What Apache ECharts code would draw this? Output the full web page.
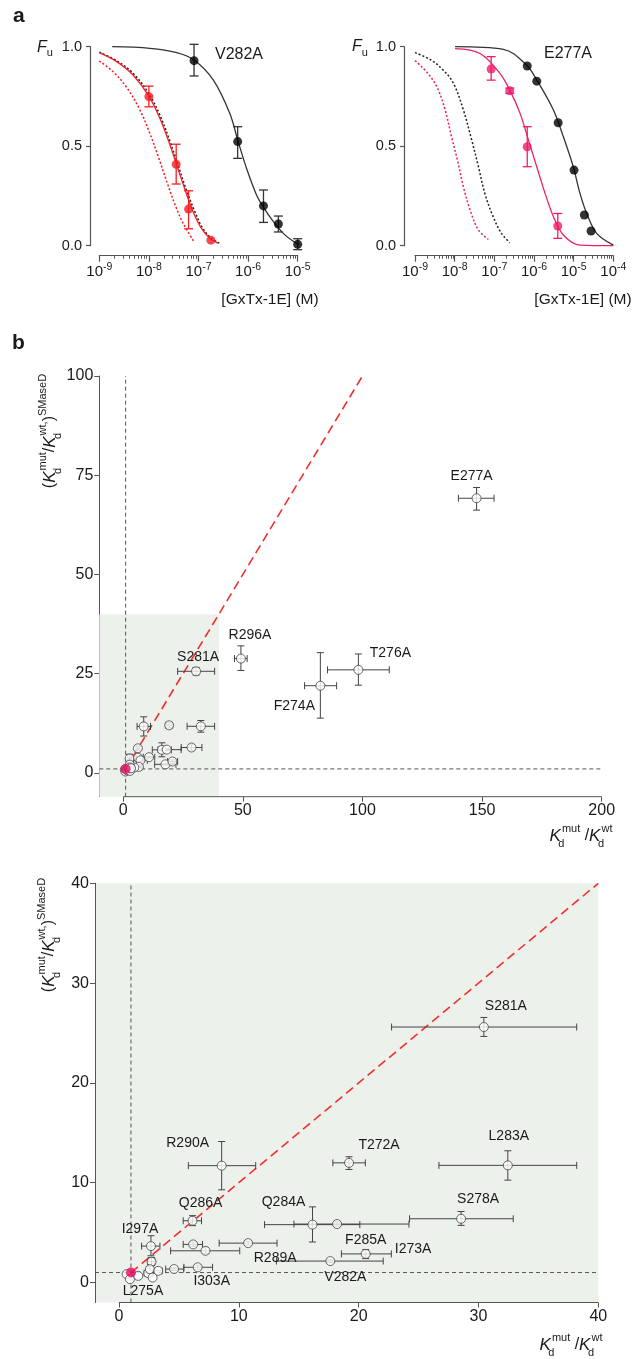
<!DOCTYPE html>
<html>
<head>
<meta charset="utf-8">
<script src="https://cdn.jsdelivr.net/npm/echarts@6.0.0/dist/echarts.min.js"></script>
<style>
html,body{margin:0;padding:0;background:#ffffff;}
#chart{width:634px;height:1359px;}
</style>
</head>
<body>
<div id="chart"></div>
<script>
// ======================= DATA =======================
// Panel a: concentrations stored as log10([GxTx-1E] / M)
const aLeftTickExp  = [-9, -8, -7, -6, -5];
const aRightTickExp = [-9, -8, -7, -6, -5, -4];
const aYTicks = [0, 0.5, 1];

// Panel a left (V282A) – black: mutant, red: mutant + SMaseD
const aLBlackLogC = [-7.09, -6.21, -5.69, -5.39, -5.00];
const aLBlackFu   = [0.930, 0.523, 0.200, 0.109, 0.007];
const aLBlackLo   = [0.853, 0.439, 0.117, 0.069, -0.020];
const aLBlackHi   = [1.012, 0.598, 0.280, 0.149, 0.035];
const aLRedLogC = [-8.00, -7.45, -7.20, -6.75];
const aLRedFu   = [0.749, 0.409, 0.184, 0.028];
const aLRedLo   = [0.698, 0.310, 0.085, 0.028];
const aLRedHi   = [0.802, 0.510, 0.276, 0.028];
// fitted curves
const aLBlackCurveLogC = [-8.74, -7.98, -7.44, -7.09, -6.70, -6.37, -6.20, -6.02, -5.83, -5.69, -5.49, -5.29, -5.06, -4.95];
const aLBlackCurveFu   = [1.000, 0.992, 0.970, 0.933, 0.832, 0.665, 0.523, 0.380, 0.255, 0.193, 0.121, 0.062, 0.017, 0.004];
const aLRedCurveLogC = [-9.00, -8.65, -8.32, -8.00, -7.78, -7.61, -7.45, -7.27, -7.11, -6.94, -6.77, -6.60];
const aLRedCurveFu   = [0.970, 0.925, 0.858, 0.752, 0.640, 0.531, 0.414, 0.280, 0.171, 0.087, 0.037, 0.012];
const aLBlackDotLogC = [-9.00, -8.64, -8.30, -7.98, -7.76, -7.59, -7.43, -7.25, -7.08, -6.92, -6.75, -6.58];
const aLBlackDotFu   = [0.972, 0.928, 0.862, 0.756, 0.645, 0.535, 0.418, 0.284, 0.175, 0.090, 0.039, 0.013];
const aLRedDotLogC = [-9.00, -8.72, -8.45, -8.18, -7.98, -7.81, -7.64, -7.47, -7.31, -7.09];
const aLRedDotFu   = [0.928, 0.874, 0.796, 0.682, 0.564, 0.447, 0.322, 0.204, 0.112, 0.020];

// Panel a right (E277A) – black: mutant, pink: mutant + SMaseD
const aRBlackLogC = [-6.17, -5.93, -5.39, -4.99, -4.73, -4.56];
const aRBlackFu   = [0.903, 0.827, 0.618, 0.380, 0.154, 0.074];
const aRPinkLogC = [-7.08, -6.61, -6.17, -5.40];
const aRPinkFu   = [0.888, 0.779, 0.497, 0.099];
const aRPinkLo   = [0.832, 0.765, 0.397, 0.037];
const aRPinkHi   = [0.950, 0.792, 0.598, 0.162];
const aRBlackCurveLogC = [-7.99, -6.77, -6.19, -5.93, -5.51, -5.26, -5.01, -4.84, -4.67, -4.42, -4.00];
const aRBlackCurveFu   = [1.000, 0.987, 0.908, 0.833, 0.682, 0.548, 0.397, 0.263, 0.162, 0.062, 0.003];
const aRPinkCurveLogC = [-7.99, -7.36, -6.86, -6.61, -6.35, -6.14, -5.93, -5.72, -5.51, -5.26, -4.84, -4.00];
const aRPinkCurveFu   = [0.990, 0.966, 0.866, 0.782, 0.665, 0.531, 0.397, 0.263, 0.146, 0.054, 0.003, 0.000];
const aRBlackDotLogC = [-9.00, -8.62, -8.29, -8.03, -7.78, -7.57, -7.40, -7.24, -7.03, -6.82, -6.61];
const aRBlackDotFu   = [0.970, 0.936, 0.883, 0.816, 0.682, 0.531, 0.397, 0.263, 0.146, 0.062, 0.015];
const aRPinkDotLogC = [-9.00, -8.71, -8.45, -8.24, -8.08, -7.93, -7.78, -7.61, -7.40, -7.15];
const aRPinkDotFu   = [0.930, 0.874, 0.799, 0.682, 0.548, 0.430, 0.296, 0.179, 0.079, 0.032];

// Panel b: Kd(mut)/Kd(wt) (x) vs (Kd(mut)/Kd(wt))^SMaseD (y)
const bNames = ['S281A','L283A','T272A','R290A','S278A','Q284A','I273A','Q286A','I297A','','','R289A','V282A','F285A','I303A','','','','L275A','','','','','','F274A','T276A','R296A','E277A'];
const bX   = [30.45, 32.45, 19.20, 8.57, 28.55, 16.15, 18.20, 6.14, 2.67, 6.19, 7.22, 10.78, 17.64, 20.59, 6.57, 4.60, 2.72, 0.64, 0.92, 1.61, 2.44, 2.58, 2.81, 3.28, 82.4, 98.3, 49.2, 147.7];
const bXLo = [22.75, 26.70, 17.85, 5.79, 24.25, 12.15, 14.60, 5.36, 1.89, 5.36, 4.31, 8.36, 13.14, 18.56, 5.42, 3.90, 2.40, 0.64, 0.92, 1.61, 2.10, 2.58, 2.81, 2.90, 75.8, 85.4, 46.5, 140.1];
const bXHi = [38.20, 38.20, 20.56, 11.41, 32.90, 20.10, 24.20, 6.89, 3.42, 6.97, 10.08, 13.19, 22.05, 22.73, 7.81, 5.40, 3.00, 0.64, 0.92, 1.61, 2.80, 2.58, 2.81, 3.60, 89.2, 111.2, 51.8, 155.0];
const bY   = [25.60, 11.74, 11.99, 11.71, 6.39, 5.80, 5.86, 6.19, 3.65, 3.82, 3.18, 3.95, 2.15, 2.87, 1.53, 1.35, 2.08, 0.84, 0.34, 0.67, 0.94, 1.34, 0.50, 1.17, 21.96, 25.96, 28.8, 69.2];
const bYLo = [24.66, 10.26, 11.33, 9.29, 5.73, 4.06, 5.65, 5.70, 2.68, 3.60, 2.90, 3.75, 2.00, 2.40, 1.30, 1.20, 1.70, 0.84, 0.34, 0.67, 0.94, 1.10, 0.50, 1.17, 13.8, 22.1, 25.8, 66.2];
const bYHi = [26.56, 13.20, 12.60, 14.13, 7.12, 7.58, 6.07, 6.70, 4.69, 4.05, 3.50, 4.15, 2.30, 3.30, 1.75, 1.50, 2.50, 0.84, 0.34, 0.67, 0.94, 1.60, 0.50, 1.17, 30.3, 29.96, 32.0, 71.9];
const wtPoint = [1, 1];           // wild type reference
const refRatio = 1;               // Kd ratio of 1 (dashed guides)
const bTopXRange = [-10, 200], bTopYRange = [-6, 100];
const bTopXTicks = [0, 50, 100, 150, 200], bTopYTicks = [0, 25, 50, 75, 100];
const bBotXRange = [-2, 40], bBotYRange = [-2, 40];
const bBotXTicks = [0, 10, 20, 30, 40], bBotYTicks = [0, 10, 20, 30, 40];
const bTopDiagEnd = 100, bBotDiagEnd = 40;
const bInset = [40, 40];

// ======================= STYLE =======================
const FONT = '"Liberation Sans", Arial, Helvetica, sans-serif';
const AX = '#555555';
const TXT = '#1a1a1a';
const RED = '#f41c22';
const PINK = '#ef1d6c';
const WT = '#e8075f';
const DASHRED = '#f2302a';
const SHADE = '#edf1ec';

// label offsets (px, centre of label relative to centre of point)
const topLabelOffsets = { E277A: [-5, -22], R296A: [9, -23], S281A: [2, -14], T276A: [32, -17], F274A: [-26, 20] };
const botLabelOffsets = { S281A: [22, -21], L283A: [1, -29], T272A: [30, -18], R290A: [-34, -23], S278A: [17, -20],
  Q284A: [-29, -23], I273A: [76, 25], Q286A: [8, -18], I297A: [-11, -17], R289A: [27, 15], V282A: [15, 16],
  F285A: [0, -14], I303A: [14, 14], L275A: [13, 12] };

const pow10 = e => Math.pow(10, e);
const minorTicks = exps => {
  const out = [];
  for (let i = 0; i < exps.length - 1; i++) for (let k = 2; k <= 9; k++) out.push(k * pow10(exps[i]));
  return out;
};

function makeErr(color, cap, lw) {
  return function (params, api) {
    const x = api.value(0), y = api.value(1);
    const xl = api.value(2), xh = api.value(3), yl = api.value(4), yh = api.value(5);
    const st = { stroke: color, lineWidth: lw, fill: null };
    const kids = [];
    const seg = (p, q) => kids.push({ type: 'line', shape: { x1: p[0], y1: p[1], x2: q[0], y2: q[1] }, style: st });
    if (xh > xl) {
      const a = api.coord([xl, y]), b = api.coord([xh, y]);
      seg(a, b); seg([a[0], a[1] - cap], [a[0], a[1] + cap]); seg([b[0], b[1] - cap], [b[0], b[1] + cap]);
    }
    if (yh > yl) {
      const a = api.coord([x, yl]), b = api.coord([x, yh]);
      seg(a, b); seg([a[0] - cap, a[1]], [a[0] + cap, a[1]]); seg([b[0] - cap, b[1]], [b[0] + cap, b[1]]);
    }
    return { type: 'group', children: kids };
  };
}

const supRich = {
  b: { fontSize: 15, fontFamily: FONT, color: TXT, lineHeight: 20 },
  s: { fontSize: 10.5, fontFamily: FONT, color: TXT, lineHeight: 11, verticalAlign: 'top' }
};

function logMajor(grid, exps) {
  const vals = exps.map(pow10);
  return {
    type: 'log', logBase: 10, gridIndex: grid, position: 'bottom', offset: 10,
    min: vals[0], max: vals[vals.length - 1],
    axisLine: { show: true, onZero: false, lineStyle: { color: AX, width: 1.2 } },
    axisTick: { show: true, length: 6, customValues: vals, lineStyle: { color: AX, width: 1.2 } },
    axisLabel: { show: true, margin: 6, customValues: vals,
      formatter: v => '{b|10}{s|' + Math.round(Math.log10(v)) + '}', rich: supRich },
    splitLine: { show: false }, minorTick: { show: false }
  };
}
function logMinor(grid, exps) {
  const vals = exps.map(pow10);
  return {
    type: 'log', logBase: 10, gridIndex: grid, position: 'bottom', offset: 10,
    min: vals[0], max: vals[vals.length - 1],
    axisLine: { show: false, onZero: false },
    axisTick: { show: true, length: 3, customValues: minorTicks(exps), lineStyle: { color: AX, width: 1 } },
    axisLabel: { show: false }, splitLine: { show: false }
  };
}
function fuAxis(grid, offset) {
  return {
    type: 'value', gridIndex: grid, min: aYTicks[0], max: aYTicks[aYTicks.length - 1], offset: offset,
    axisLine: { show: true, onZero: false, lineStyle: { color: AX, width: 1.2 } },
    axisTick: { show: true, length: 4, customValues: aYTicks, lineStyle: { color: AX, width: 1.2 } },
    axisLabel: { customValues: aYTicks, formatter: v => v.toFixed(1), fontSize: 14.5, color: TXT, margin: 8, fontFamily: FONT },
    splitLine: { show: false }
  };
}
function bXAxis(grid, range, ticks) {
  return {
    type: 'value', gridIndex: grid, min: range[0], max: range[1], position: 'bottom',
    axisLine: { show: false, onZero: false },
    axisTick: { show: true, length: 5, customValues: ticks, lineStyle: { color: AX } },
    axisLabel: { customValues: ticks, fontSize: 16, color: TXT, margin: 6, fontFamily: FONT },
    splitLine: { show: false }
  };
}
function bYAxis(grid, range, ticks) {
  return {
    type: 'value', gridIndex: grid, min: range[0], max: range[1],
    axisLine: { show: true, onZero: false, lineStyle: { color: AX, width: 1 } },
    axisTick: { show: true, length: 5, customValues: ticks, lineStyle: { color: AX } },
    axisLabel: { customValues: ticks, fontSize: 16, color: TXT, margin: 6, fontFamily: FONT },
    splitLine: { show: false }
  };
}

function curve(xi, yi, logc, fu, color, dotted) {
  return { type: 'line', xAxisIndex: xi, yAxisIndex: yi, silent: true, clip: false, z: 2,
    data: logc.map((l, i) => [pow10(l), fu[i]]), smooth: 0.35, symbol: 'none',
    lineStyle: { color: color, width: dotted ? 1.5 : 1.3, type: dotted ? [2, 2] : 'solid' } };
}
function dots(xi, yi, logc, fu, color) {
  return { type: 'scatter', xAxisIndex: xi, yAxisIndex: yi, silent: true, z: 5, clip: false,
    symbolSize: 9, itemStyle: { color: color, borderWidth: 0 },
    data: logc.map((l, i) => [pow10(l), fu[i]]) };
}
function aErr(xi, yi, logc, fu, lo, hi, color) {
  return { type: 'custom', xAxisIndex: xi, yAxisIndex: yi, silent: true, z: 4, clip: false,
    renderItem: makeErr(color, 4.5, 1.3), encode: { x: 0, y: 1 },
    data: logc.map((l, i) => [pow10(l), fu[i], pow10(l), pow10(l), lo[i], hi[i]]) };
}

function guideLine(xi, yi, pts, color, width, dash, extra) {
  return Object.assign({ type: 'line', xAxisIndex: xi, yAxisIndex: yi, silent: true, clip: false, z: 1,
    data: pts, symbol: 'none', lineStyle: { color: color, width: width, type: dash } }, extra || {});
}
function bPanelSeries(xi, yi, xr, yr, xticks, diagEnd, offsets, shaded) {
  const s = [];
  s.push(guideLine(xi, yi, [[refRatio, yr[0]], [refRatio, yr[1]]], '#555', 1, [4, 3]));
  s.push(guideLine(xi, yi, [[xr[0], refRatio], [xr[1], refRatio]], '#555', 1, [4, 3],
    shaded ? { markArea: { silent: true, itemStyle: { color: SHADE }, data: [[{ coord: [xr[0], yr[0]] }, { coord: bInset }]] } } : null));
  s.push(guideLine(xi, yi, [[xticks[0], yr[0]], [xticks[xticks.length - 1], yr[0]]], AX, 1, 'solid', { z: 6 }));
  s.push(guideLine(xi, yi, [[wtPoint[0], wtPoint[1]], [diagEnd, diagEnd]], DASHRED, 1.6, [9, 5], { z: 2 }));
  s.push({ type: 'custom', xAxisIndex: xi, yAxisIndex: yi, silent: true, z: 3, clip: true,
    renderItem: makeErr('#444', 3.5, 1), encode: { x: 0, y: 1 },
    data: bX.map((x, i) => [x, bY[i], bXLo[i], bXHi[i], bYLo[i], bYHi[i]]) });
  s.push({ type: 'scatter', xAxisIndex: xi, yAxisIndex: yi, silent: true, z: 4, clip: true,
    symbolSize: 9, itemStyle: { color: '#ffffff', borderColor: '#444', borderWidth: 1 },
    label: { show: false, position: 'inside', formatter: '{b}', fontSize: 14, color: TXT, fontFamily: FONT, textBorderWidth: 0, opacity: 1 },
    data: bX.map((x, i) => {
      const off = offsets[bNames[i]];
      return { value: [x, bY[i]], name: bNames[i], label: off ? { show: true, offset: off } : { show: false } };
    }) });
  s.push({ type: 'scatter', xAxisIndex: xi, yAxisIndex: yi, silent: true, z: 5,
    symbolSize: 10, itemStyle: { color: WT, borderWidth: 0 }, data: [wtPoint] });
  return s;
}

const kdRich = {
  n: { fontSize: 16, fontFamily: FONT, color: TXT, lineHeight: 26 },
  i: { fontSize: 17, fontStyle: 'italic', fontFamily: FONT, color: TXT, lineHeight: 26 },
  sb: { fontSize: 11, fontFamily: FONT, color: TXT, lineHeight: 12, verticalAlign: 'bottom', width: 1 },
  sp: { fontSize: 11, fontFamily: FONT, color: TXT, lineHeight: 12, verticalAlign: 'top' }
};
const yNameText = '{n|(}{i|K}{sb|d}{sp|mut}{n|/}{i|K}{sb|d}{sp|wt,}{n|)}{sp|SMaseD}';
const xNameText = '{i|K}{sb|d}{sp|mut}{n| /}{i|K}{sb|d}{sp|wt}';
const fuRich = {
  i: { fontSize: 16, fontStyle: 'italic', fontFamily: FONT, color: TXT, lineHeight: 22 },
  s: { fontSize: 11, fontFamily: FONT, color: TXT, lineHeight: 12, verticalAlign: 'bottom' }
};
function txt(x, y, text, opts) {
  return { type: 'text', x: x, y: y, rotation: (opts && opts.rot) || 0, silent: true,
    style: Object.assign({ text: text, fill: TXT, font: '15px ' + FONT, align: 'center', verticalAlign: 'middle' }, (opts && opts.style) || {}) };
}

const option = {
  animation: false,
  backgroundColor: '#ffffff',
  textStyle: { fontFamily: FONT },
  grid: [
    { left: 99.3, top: 46.7, width: 198.4, height: 199 },
    { left: 415, top: 46.7, width: 198.3, height: 199 },
    { left: 99.3, top: 376, width: 502.4, height: 420.7 },
    { left: 95, top: 883.3, width: 503.3, height: 419.2, show: true, backgroundColor: SHADE, borderWidth: 0 }
  ],
  xAxis: [
    logMajor(0, aLeftTickExp), logMinor(0, aLeftTickExp),
    logMajor(1, aRightTickExp), logMinor(1, aRightTickExp),
    bXAxis(2, bTopXRange, bTopXTicks), bXAxis(3, bBotXRange, bBotXTicks)
  ],
  yAxis: [
    fuAxis(0, 9.3), fuAxis(1, 11),
    bYAxis(2, bTopYRange, bTopYTicks), bYAxis(3, bBotYRange, bBotYTicks)
  ],
  series: [
    curve(0, 0, aLRedDotLogC, aLRedDotFu, RED, true),
    curve(0, 0, aLBlackDotLogC, aLBlackDotFu, '#222', true),
    curve(0, 0, aLRedCurveLogC, aLRedCurveFu, RED, false),
    curve(0, 0, aLBlackCurveLogC, aLBlackCurveFu, '#333', false),
    aErr(0, 0, aLBlackLogC, aLBlackFu, aLBlackLo, aLBlackHi, '#333'),
    aErr(0, 0, aLRedLogC, aLRedFu, aLRedLo, aLRedHi, RED),
    dots(0, 0, aLBlackLogC, aLBlackFu, '#000'),
    dots(0, 0, aLRedLogC, aLRedFu, RED),

    curve(2, 1, aRPinkDotLogC, aRPinkDotFu, PINK, true),
    curve(2, 1, aRBlackDotLogC, aRBlackDotFu, '#222', true),
    curve(2, 1, aRPinkCurveLogC, aRPinkCurveFu, PINK, false),
    curve(2, 1, aRBlackCurveLogC, aRBlackCurveFu, '#333', false),
    aErr(2, 1, aRPinkLogC, aRPinkFu, aRPinkLo, aRPinkHi, PINK),
    dots(2, 1, aRBlackLogC, aRBlackFu, '#000'),
    dots(2, 1, aRPinkLogC, aRPinkFu, PINK),

    ...bPanelSeries(4, 2, bTopXRange, bTopYRange, bTopXTicks, bTopDiagEnd, topLabelOffsets, true),
    ...bPanelSeries(5, 3, bBotXRange, bBotYRange, bBotXTicks, bBotDiagEnd, botLabelOffsets, false)
  ],
  graphic: { elements: [
    txt(13, 16, 'a', { style: { font: 'bold 21px ' + FONT, align: 'left' } }),
    txt(12, 343, 'b', { style: { font: 'bold 21px ' + FONT, align: 'left' } }),
    txt(239, 54.5, 'V282A', { style: { font: '16px ' + FONT } }),
    txt(568, 54, 'E277A', { style: { font: '16px ' + FONT } }),
    txt(37, 47.5, '{i|F}{s|u}', { style: { rich: fuRich, align: 'left' } }),
    txt(352, 47, '{i|F}{s|u}', { style: { rich: fuRich, align: 'left' } }),
    txt(270, 300, '[GxTx-1E] (M)', { style: { font: '15.5px ' + FONT } }),
    txt(583, 300, '[GxTx-1E] (M)', { style: { font: '15.5px ' + FONT } }),
    txt(50, 431, yNameText, { rot: Math.PI / 2, style: { rich: kdRich } }),
    txt(49, 935, yNameText, { rot: Math.PI / 2, style: { rich: kdRich } }),
    txt(581, 836, xNameText, { style: { rich: kdRich } }),
    txt(571, 1345, xNameText, { style: { rich: kdRich } })
  ] }
};

const chart = echarts.init(document.getElementById('chart'), null, { renderer: 'canvas', width: 634, height: 1359 });
chart.setOption(option);
</script>
</body>
</html>
